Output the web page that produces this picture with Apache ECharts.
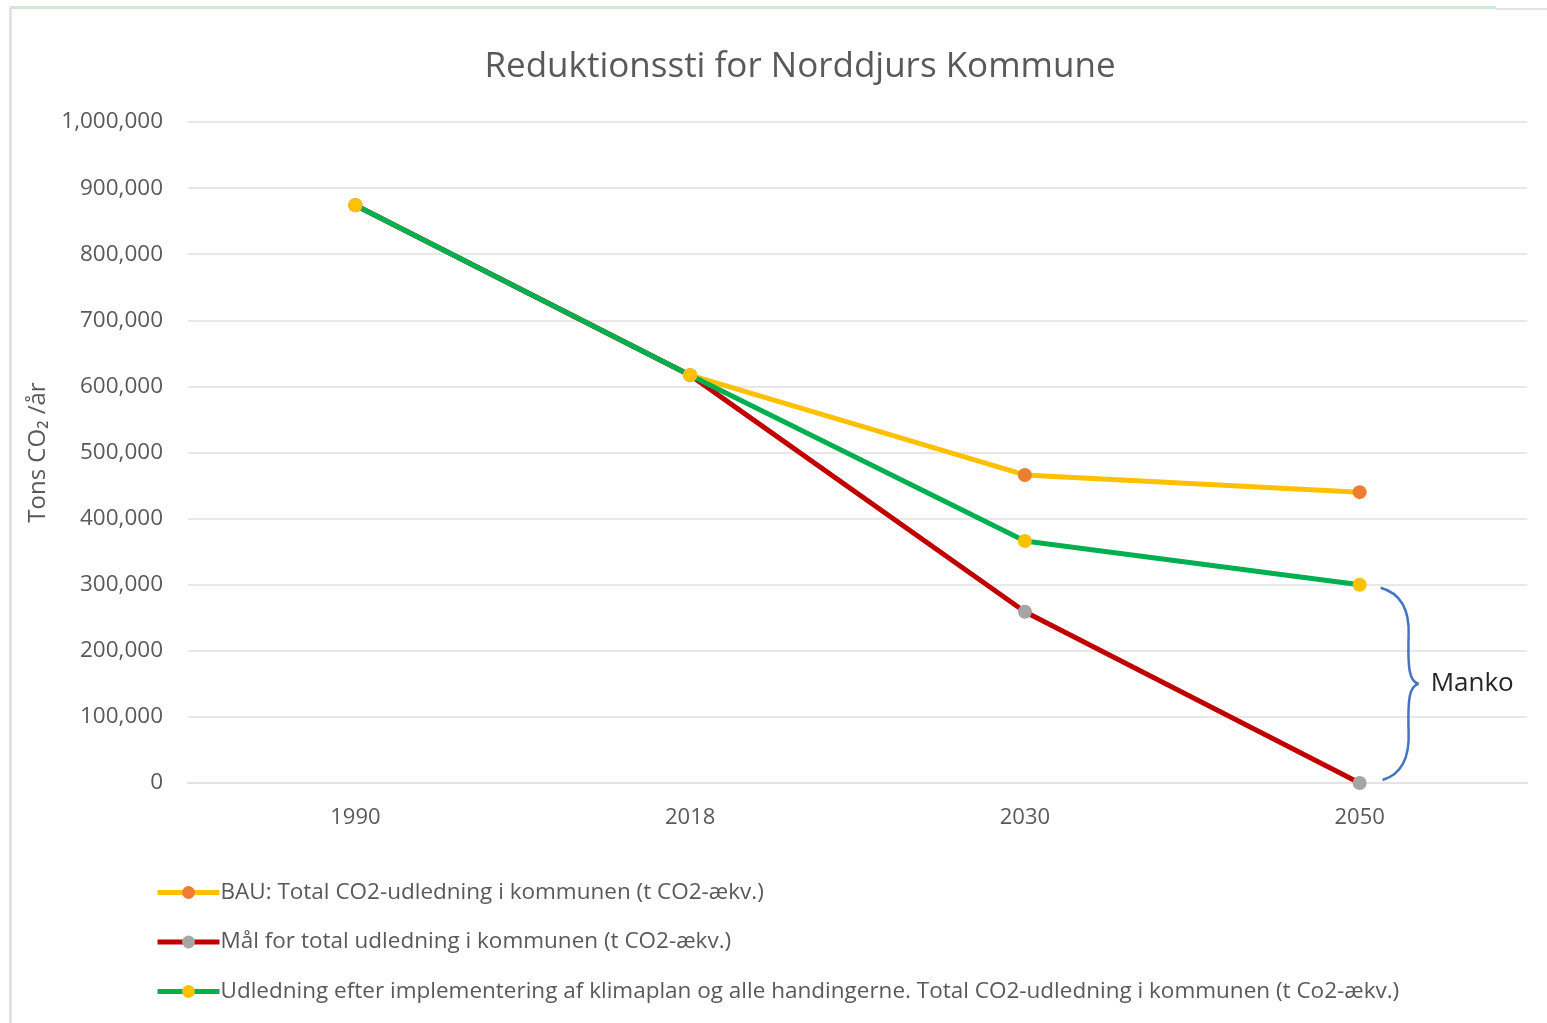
<!DOCTYPE html>
<html>
<head>
<meta charset="utf-8">
<title>Reduktionssti for Norddjurs Kommune</title>
<script src="https://cdn.jsdelivr.net/npm/echarts@6/dist/echarts.min.js"></script>
<style>
  html, body { margin: 0; padding: 0; background: #fff; }
  #chart { width: 1547px; height: 1023px; }
</style>
</head>
<body>
<div id="chart"></div>
<script>
// data
const years = ['1990', '2018', '2030', '2050']
const bauValues = [874000, 617000, 466000, 440000]
const maalValues = [874000, 617000, 259000, 0]
const planValues = [874000, 617000, 366000, 300000]
const seriesNames = [
  'BAU: Total CO2-udledning i kommunen (t CO2-ækv.)',
  'Mål for total udledning i kommunen (t CO2-ækv.)',
  'Udledning efter implementering af klimaplan og alle handingerne. Total CO2-udledning i kommunen (t Co2-ækv.)',
]
const mankoLabel = 'Manko'

const font = '"Open Sans", Lato, sans-serif'
const textColor = '#595959'

const chart = echarts.init(document.getElementById('chart'))

function lineSeries(name, data, lineColor, dotColor) {
  return {
    name: name,
    type: 'line',
    data: data,
    symbol: 'circle',
    symbolSize: 14,
    lineStyle: { color: lineColor, width: 5 },
    itemStyle: { color: dotColor },
    emphasis: { disabled: true },
    z: 3,
  }
}

let options = {
  animation: false,
  backgroundColor: '#fff',
  title: {
    text: 'Reduktionssti for Norddjurs Kommune',
    left: 795,
    top: 45,
    textAlign: 'center',
    textStyle: { fontFamily: font, fontSize: 35, fontWeight: 'normal', color: textColor },
  },
  grid: { left: 188, right: 20, top: 122, bottom: 240 },
  legend: {
    orient: 'vertical',
    left: 150,
    top: 876,
    itemWidth: 62,
    itemHeight: 16,
    itemGap: 26.5,
    lineStyle: { width: 5 },
    textStyle: { fontFamily: font, fontSize: 22.5, color: textColor, padding: [0, 0, 0, -4] },
    data: seriesNames,
  },
  xAxis: {
    type: 'category',
    data: years,
    boundaryGap: true,
    axisLine: { lineStyle: { color: '#e3e3e3', width: 2 } },
    axisTick: { show: false },
    axisLabel: { margin: 24, fontFamily: font, fontSize: 22, color: textColor },
  },
  yAxis: {
    type: 'value',
    min: 0,
    max: 1000000,
    interval: 100000,
    name: 'Tons CO₂ /år',
    nameLocation: 'middle',
    nameGap: 138,
    nameTextStyle: { fontFamily: font, fontSize: 24, color: textColor },
    axisLine: { show: false },
    axisTick: { show: false },
    axisLabel: {
      margin: 25,
      fontFamily: font,
      fontSize: 22.5,
      color: textColor,
      formatter: (v) => v.toLocaleString('en-US'),
    },
    splitLine: { lineStyle: { color: '#e8e8e8', width: 2 } },
  },
  series: [
    lineSeries(seriesNames[0], bauValues, '#FFC000', '#ED7D31'),
    lineSeries(seriesNames[1], maalValues, '#C00000', '#A5A5A5'),
    lineSeries(seriesNames[2], planValues, '#00B050', '#FFC000'),
  ],
}
chart.setOption(options)

// curly brace between plan and target in the last year
const last = years.length - 1
const pTop = chart.convertToPixel({ seriesIndex: 2 }, [last, planValues[last]])
const pBot = chart.convertToPixel({ seriesIndex: 1 }, [last, maalValues[last]])
const bx = pTop[0] + 21
const y0 = pTop[1] + 3
const y1 = pBot[1] - 3
const ym = (y0 + y1) / 2
const h = ym - y0

function curve(x1, yA, c1x, c1y, c2x, c2y, x2, yB) {
  return {
    type: 'bezierCurve',
    shape: { x1: x1, y1: yA, cpx1: c1x, cpy1: c1y, cpx2: c2x, cpy2: c2y, x2: x2, y2: yB },
    style: { fill: null, stroke: '#4472C4', lineWidth: 2.5 },
    silent: true,
    z: 10,
  }
}

chart.setOption({
  graphic: [
    // frame edges of the screenshot
    { type: 'rect', shape: { x: 10, y: 6, width: 1486, height: 3 }, style: { fill: '#cfe8d6' }, silent: true },
    { type: 'rect', shape: { x: 1496, y: 8, width: 51, height: 2 }, style: { fill: '#e3e3e3' }, silent: true },
    { type: 'rect', shape: { x: 9, y: 8, width: 3, height: 1015 }, style: { fill: '#e3e3e3' }, silent: true },
    curve(bx, y0, bx + 22, y0 + 6, bx + 29, y0 + 24, bx + 28, y0 + h * 0.5),
    curve(bx + 28, y0 + h * 0.5, bx + 27, ym - 14, bx + 29, ym - 2, bx + 38, ym),
    curve(bx + 38, ym, bx + 29, ym + 2, bx + 27, ym + 14, bx + 28, y1 - h * 0.5),
    curve(bx + 28, y1 - h * 0.5, bx + 29, y1 - 24, bx + 22, y1 - 6, bx + 2, y1),
    {
      type: 'text',
      x: bx + 50,
      y: ym,
      style: {
        text: mankoLabel,
        font: '26px ' + font,
        fill: '#262626',
        verticalAlign: 'middle',
      },
      silent: true,
      z: 10,
    },
  ],
})
</script>
</body>
</html>
